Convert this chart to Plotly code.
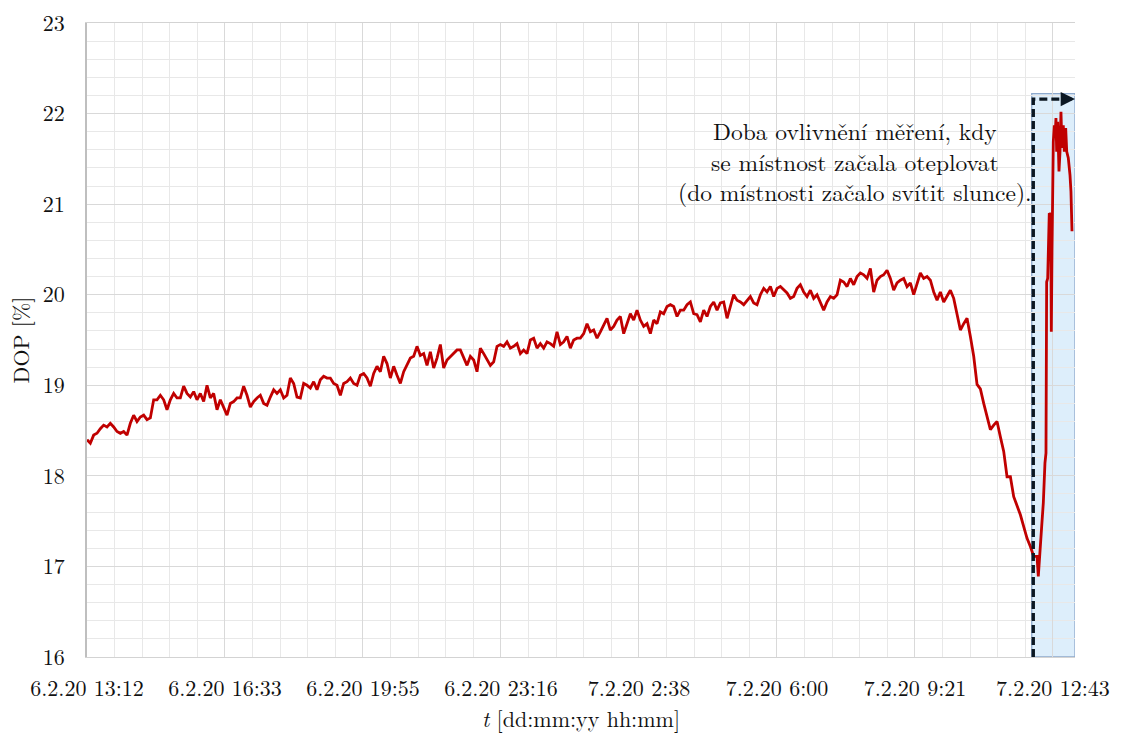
import pandas as pd
import plotly.graph_objects as go

# ---------------- data ----------------
start_time = "2020-02-06 13:12"
sample_step_min = 4.87          # sampling interval of the main record [min]

dop_main = [
    # 6.2.20 13:12 ...
    18.40, 18.36, 18.45, 18.47, 18.52, 18.56, 18.54, 18.58, 18.54, 18.49,
    18.47, 18.49, 18.45, 18.58, 18.67, 18.60, 18.65, 18.67, 18.62, 18.64,
    18.84, 18.84, 18.89, 18.84, 18.73, 18.84, 18.91, 18.86, 18.86, 18.99,
    18.91, 18.87, 18.93, 18.84, 18.91, 18.82, 19.00, 18.86, 18.91, 18.73,
    18.84, 18.76, 18.67, 18.80, 18.82, 18.86, 18.86, 18.99, 18.89, 18.76,
    18.82, 18.86, 18.89, 18.80, 18.78, 18.87, 18.95, 18.91, 18.95, 18.86,
    18.89, 19.08, 19.02, 18.87, 18.86, 19.02, 19.00, 18.97, 19.04, 18.95,
    19.06, 19.10, 19.08, 19.08, 19.02, 19.00, 18.89, 19.02, 19.04, 19.08,
    19.02, 19.00, 19.11,
    # ~ 6.2.20 20:00 ...
    19.13, 19.08, 18.99, 19.13, 19.21, 19.15, 19.32, 19.24, 19.08, 19.21,
    19.11, 19.02, 19.15, 19.22, 19.30, 19.32, 19.43, 19.33, 19.35, 19.22,
    19.37, 19.19, 19.30, 19.45, 19.19, 19.28, 19.32, 19.35, 19.39, 19.39,
    19.30, 19.22, 19.32, 19.28, 19.15, 19.41, 19.35, 19.28, 19.22, 19.26,
    19.43, 19.45, 19.43, 19.48, 19.41, 19.43, 19.46, 19.35, 19.39, 19.35,
    19.50, 19.52, 19.41, 19.46, 19.41, 19.48, 19.46, 19.43, 19.59, 19.45,
    19.48, 19.54, 19.41, 19.50, 19.52, 19.52, 19.57, 19.68, 19.59, 19.61,
    19.52, 19.59, 19.67, 19.74, 19.61, 19.65, 19.72, 19.76,
    # ~ 7.2.20 2:15 ...
    19.57, 19.68, 19.79, 19.72, 19.83, 19.72, 19.65, 19.68, 19.57, 19.72,
    19.68, 19.81, 19.79, 19.87, 19.89, 19.87, 19.76, 19.83, 19.83, 19.89,
    19.92, 19.79, 19.78, 19.70, 19.83, 19.76, 19.87, 19.92, 19.83, 19.91,
    19.92, 19.74, 19.87, 20.00, 19.94, 19.92, 19.89, 19.94, 19.98, 19.91,
    19.89, 20.00, 20.07, 20.03, 20.09, 19.98, 20.07, 20.09, 20.05, 20.02,
    19.96, 19.98, 20.07, 20.11, 20.03, 19.98, 20.05, 19.96, 20.00, 19.91,
    19.83, 19.92, 19.98, 19.96, 20.00, 20.16, 20.14, 20.09, 20.18, 20.11,
    20.20, 20.24, 20.22, 20.18, 20.29, 20.03, 20.16, 20.20,
    # ~ 7.2.20 8:30 ...
    20.22, 20.27, 20.18, 20.05, 20.13, 20.16, 20.18, 20.09, 20.13, 20.00,
    20.11, 20.24, 20.18, 20.20, 20.16, 20.03, 19.94, 20.03, 19.92, 19.98,
    20.05, 19.96, 19.79, 19.61, 19.68, 19.74, 19.54, 19.32,
    19.01, 18.96, 18.80, 18.65, 18.51, 18.56, 18.60, 18.43, 18.27, 17.99,
    17.99, 17.77, 17.68, 17.57, 17.44, 17.31, 17.22, 17.11, 17.11,
]

# fast part at the end of the record (minutes after start, DOP)
tail_min = [1389.8, 1394.7, 1397.1, 1399.5, 1401.0, 1401.5, 1402.0, 1403.5,
            1405.8, 1407.9, 1408.8, 1409.8, 1411.7, 1413.2, 1414.2, 1415.6,
            1416.6, 1418.1, 1420.0, 1421.5, 1422.9, 1424.4, 1426.3, 1427.8,
            1429.8, 1431.3, 1433.6, 1436.1, 1437.5, 1439.0]
tail_dop = [16.89, 17.44, 17.70, 18.14, 18.25, 19.20, 20.14, 20.18,
            20.90, 20.88, 19.59, 20.47, 21.69, 21.87, 21.73, 21.95,
            21.58, 21.91, 21.36, 21.58, 22.02, 21.62, 21.87, 21.58,
            21.84, 21.58, 21.51, 21.32, 21.14, 20.70]

# influenced period (minutes after start) and axis end
influence_start_min = 1380.2
influence_line_min = 1382.4
axis_end_min = 1443.4
influence_top = 22.22
arrow_level = 22.16

note_text = ("Doba ovlivnění měření, kdy<br>se místnost začala oteplovat"
             "<br>(do místnosti začalo svítit slunce).")
note_min = 1122
note_level = 21.48

y_ticks = [16, 17, 18, 19, 20, 21, 22, 23]

# ---------------- build ----------------
t0 = pd.Timestamp(start_time)
main_t = [t0 + pd.Timedelta(minutes=i * sample_step_min) for i in range(len(dop_main))]
tail_t = [t0 + pd.Timedelta(minutes=m) for m in tail_min]
times = main_t + tail_t
dop = dop_main + tail_dop

x_rect0 = t0 + pd.Timedelta(minutes=influence_start_min)
x_line = t0 + pd.Timedelta(minutes=influence_line_min)
x_end = t0 + pd.Timedelta(minutes=axis_end_min)
x_note = t0 + pd.Timedelta(minutes=note_min)

SERIF = "Latin Modern Roman, CMU Serif, Liberation Serif, Times New Roman, serif"

fig = go.Figure()

fig.add_shape(type="rect", xref="x", yref="y", x0=x_rect0, x1=x_end, y0=16, y1=influence_top,
              fillcolor="#DDEEFB", line=dict(color="#8EA9CC", width=1.3), layer="below")

fig.add_trace(go.Scatter(x=times, y=dop, mode="lines",
                         line=dict(color="#C00000", width=2.8), hoverinfo="skip",
                         showlegend=False))

fig.add_trace(go.Scatter(x=[x_line, x_line, x_end], y=[16, arrow_level, arrow_level],
                         mode="lines", line=dict(color="#0B1722", width=3.4, dash="8px,4px"),
                         hoverinfo="skip", showlegend=False))

fig.add_annotation(x=x_end, y=arrow_level, xref="x", yref="y", ax=-8, ay=0,
                   axref="pixel", ayref="pixel", showarrow=True, arrowhead=2,
                   arrowsize=1.1, arrowwidth=2.6, arrowcolor="#0B1722", text="")

fig.add_annotation(x=x_note, y=note_level, xref="x", yref="y", text=note_text,
                   showarrow=False, align="center", xanchor="center", yanchor="middle",
                   font=dict(family=SERIF, size=23.5, color="#111"))

fig.update_layout(
    width=1121, height=738,
    margin=dict(l=87, r=46, t=23, b=81, autoexpand=False),
    paper_bgcolor="white", plot_bgcolor="white",
    font=dict(family=SERIF, size=22, color="#111"),
    showlegend=False,
)

fig.update_xaxes(
    type="date",
    range=[t0, x_end],
    tick0=t0, dtick=0.14 * 86400000,
    tickformat="%-d.%-m.%y %-H:%M",
    showgrid=True, gridcolor="#D9D9D9", gridwidth=1.3,
    minor=dict(dtick=0.028 * 86400000, tick0=t0, showgrid=True,
               gridcolor="#E8E8E8", gridwidth=1.3),
    showline=True, linecolor="#D3D3D3", linewidth=1.3, mirror=True,
    ticks="", ticklabelstandoff=11, ticklabeloverflow="allow",
    zeroline=False, automargin=False,
    title=dict(text="<i>t</i> [dd:mm:yy hh:mm]", standoff=8,
               font=dict(family=SERIF, size=22)),
    tickfont=dict(family=SERIF, size=22),
)

fig.update_yaxes(
    range=[16, 23],
    tickvals=y_ticks,
    showgrid=True, gridcolor="#D9D9D9", gridwidth=1.3,
    minor=dict(dtick=0.2, showgrid=True, gridcolor="#E8E8E8", gridwidth=1.3),
    showline=True, linecolor="#BFBFBF", linewidth=1.5,
    ticks="", ticklabelstandoff=16, ticklabeloverflow="allow",
    zeroline=False, automargin=False,
    title=dict(text="DOP [%]", standoff=7, font=dict(family=SERIF, size=22)),
    tickfont=dict(family=SERIF, size=22),
)

# remove the default 8 px page margin so the figure fills the window exactly
fig.write_html("out.html", config={"displayModeBar": False},
               post_script="document.body.style.margin='0';")
